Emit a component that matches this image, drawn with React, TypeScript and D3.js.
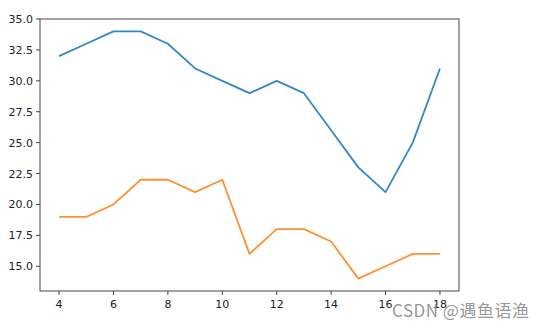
import React from "react";
import * as d3 from "d3";

const xs = [4, 5, 6, 7, 8, 9, 10, 11, 12, 13, 14, 15, 16, 17, 18];
const blueValues = [32, 33, 34, 34, 33, 31, 30, 29, 30, 29, 26, 23, 21, 25, 31];
const orangeValues = [19, 19, 20, 22, 22, 21, 22, 16, 18, 18, 17, 14, 15, 16, 16];
const xTicks = [4, 6, 8, 10, 12, 14, 16, 18];
const yTicks = [15, 17.5, 20, 22.5, 25, 27.5, 30, 32.5, 35];

export default function App() {
  const W = 543, H = 328;
  const left = 40, right = 459, top = 19, bottom = 291;
  const x = d3.scaleLinear().domain([3.3, 18.7]).range([left, right]);
  const y = d3.scaleLinear().domain([13, 35]).range([bottom, top]);
  const line = (vals: number[]) =>
    d3.line<number>().x((_, i) => x(xs[i])).y((d) => y(d))(vals) || "";
  const font = "DejaVu Sans, sans-serif";
  return (
    <svg width={W} height={H} style={{ position: "absolute", left: 0, top: 0 }}>
      <rect width={W} height={H} fill="#fff" />
      <path d={line(blueValues)} fill="none" stroke="#3288c4" strokeWidth={1.8} strokeLinejoin="round" />
      <path d={line(orangeValues)} fill="none" stroke="#ff9130" strokeWidth={1.8} strokeLinejoin="round" />
      <rect x={left} y={top} width={right - left} height={bottom - top} fill="none" stroke="#444" strokeWidth={1} />
      {xTicks.map((t) => (
        <g key={"x" + t}>
          <line x1={x(t)} x2={x(t)} y1={bottom} y2={bottom + 4} stroke="#444" />
          <text x={x(t)} y={bottom + 17} textAnchor="middle" fontSize={11} fontFamily={font} fill="#222">
            {t}
          </text>
        </g>
      ))}
      {yTicks.map((t) => (
        <g key={"y" + t}>
          <line x1={left - 4} x2={left} y1={y(t)} y2={y(t)} stroke="#444" />
          <text x={left - 7} y={y(t) + 4} textAnchor="end" fontSize={11} fontFamily={font} fill="#222">
            {t.toFixed(1)}
          </text>
        </g>
      ))}
      <text x={392} y={317} fontSize={17} letterSpacing={0.5} fontFamily="Noto Sans CJK SC, sans-serif" fill="#8a8a8a" fillOpacity={0.9}>
        CSDN @遇鱼语渔
      </text>
    </svg>
  );
}
